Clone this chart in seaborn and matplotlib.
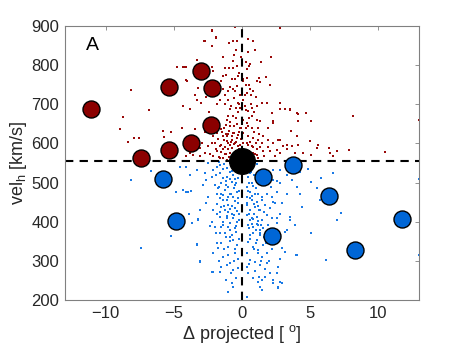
import matplotlib
matplotlib.use("Agg")
import matplotlib.pyplot as plt
import seaborn as sns

# small dots
red_dot_x = [-2.16, -0.52, 2.79, -2.72, -1.91, -2.23, -0.93, -0.69, -0.34, 0.46, 0.78, 0.95, 0.46, -0.44,
             -0.59, -1.37, -0.64, 0.29, 0.59, 1.37, 2.11, -3.33, -4.19, -4.07, -2.16, -2.11, -1.25, -0.93,
             -0.64, -0.39, 0.34, 0.54, -1.18, -1.37, -0.76, -0.52, -0.27, 0.05, 0.34, 1.22, 1.76, 1.08,
             -4.02, 2.06, -0.88, -0.64, -0.34, 0.29, 0.49, 0.59, 0.78, 1.32, -3.26, -3.46, -1.37, -1.01,
             -1.25, 0.34, 0.66, 0.22, -0.15,
             -3.33, -2.97, -3.82, -4.31, -1.62, -1.25, -0.88, -0.64, -0.27, 0.22, 0.46, 0.71, 1.08, 1.44,
             1.81, 2.18, 2.79, 3.53, 4.02, 4.14, 0.71, 1.08, 1.32, 0.34, 0.71, 1.20, 1.93, 2.30, -1.13,
             -0.88, -1.50, -1.86, -2.11, -1.37, -1.01, -0.64, -0.39, -1.13, -0.88, -0.52, -0.27, -1.62,
             -1.37, -1.86, -2.11, -2.35, -2.72, -3.09, -3.46, -3.33, 0.46, 0.83, 1.20, 1.57, 1.93, 2.30,
             2.67, 3.04, 3.28, 3.65, 3.90, 2.79, 2.43, 2.06, 1.57, 1.08, 0.71, 0.34, 0.59, 0.95, 1.20,
             -1.62, -1.25, -0.88, -0.64, -1.13, -0.15, 0.10, -1.99, -2.48, -3.09, -4.07, -3.82,
             -1.45, -1.2, -0.95, -0.75, -0.55, -0.3, -0.1, -1.3, -1.05, -0.8, -0.6, -0.4, -0.15, -1.5,
             -1.25, -1.0, -0.7, -0.45, -0.2, -1.55, -1.15, -0.95, -0.65, -0.35, -0.1, -1.7, -1.4, 0.1,
             -0.05, -0.35, -0.6, -0.9, -1.2, 0.15, 0.25, -0.8, -1.9, -2.2, -1.75, 0.05,
             0.45, 0.6, 0.8, 1.0, 0.55, 0.85, 1.1, 1.35, 0.4, 0.7, 1.5, 1.25, 0.9, 0.45,
             -0.4, -0.2, -0.6, 0.1, -0.3, -0.8, 0.3, -1.0, -0.5, 0.05, -0.25, -0.1, -1.5, -1.8, -2.4,
             -2.6, -1.6, 0.7, 1.0, 0.9,
             -0.5, -0.25, -1.1, 0.35, 0.6, 1.6, 1.9, -0.7, -0.2, 0.3, -1.3, -1.0, -0.4, 0.5, -2.7, -2.9,
             -3.6, -4.4, -0.15, 0.35,
             -8.11, -8.73, -8.92, -6.81, -8.36, -7.92, -7.55, -5.78, -5.71, -5.17, -4.36, -4.07, -4.73,
             -4.36, -3.33, -2.79, -2.16, -1.91,
             2.79, 2.11, 1.39, 1.76, 2.79, 3.16, 3.53, 4.15, 4.71, 5.05, 8.14, 12.99, 2.26, 3.58, 4.07,
             5.0, 5.6, 6.38, 6.96, 6.48, 6.67, 7.89, 10.51, 4.5, 5.1, 3.28, 2.79, 2.55, 4.15, 5.49]
red_dot_y = [888, 898, 895, 863, 869, 849, 857, 862, 862, 868, 861, 840, 835, 839,
             827, 822, 811, 808, 803, 808, 822, 813, 796, 796, 796, 784, 793, 793,
             793, 799, 791, 798, 776, 772, 764, 765, 772, 764, 768, 768, 770, 759,
             760, 750, 745, 740, 747, 750, 750, 738, 735, 757, 742, 724, 740, 733,
             725, 730, 724, 723, 725,
             712, 704, 687, 695, 712, 700, 687, 670, 704, 695, 683, 691, 695, 704,
             704, 678, 687, 687, 678, 657, 670, 661, 657, 653, 640, 640, 640, 653, 661,
             644, 636, 627, 619, 619, 623, 627, 614, 606, 597, 602, 593, 593,
             585, 580, 568, 572, 576, 568, 636, 610, 619, 614, 610, 619, 610, 602,
             610, 593, 585, 593, 576, 576, 568, 580, 580, 585, 593, 602, 568, 572, 563,
             563, 572, 576, 563, 619, 640, 627, 602, 593, 589, 568, 576,
             630, 625, 632, 618, 628, 622, 612, 608, 600, 605, 598, 604, 596, 596,
             590, 586, 588, 582, 586, 578, 574, 566, 572, 568, 575, 566, 562, 600,
             640, 650, 645, 655, 648, 580, 565, 562, 585, 600, 612, 660,
             595, 605, 590, 600, 580, 575, 570, 590, 570, 560, 600, 625, 630, 645,
             690, 700, 715, 710, 680, 695, 685, 710, 735, 760, 780, 820, 760, 700, 680,
             720, 735, 700, 720, 680,
             560, 558, 558, 558, 575, 568, 590, 610, 630, 640, 640, 670, 665, 665, 630, 600,
             570, 640, 690, 730,
             736, 667, 636, 685, 605, 614, 615, 633, 617, 630, 696, 762, 796,
             796, 813, 863, 890, 871,
             895, 822, 808, 769, 704, 689, 685, 676, 679, 657, 670, 660, 657, 632, 619,
             607, 597, 588, 582, 576, 567, 583, 579, 575, 570, 596, 608, 584, 597, 588]

blue_dot_x = [-4.07, -3.82, -4.31, -3.95, -3.33, -2.72, -2.60, -2.23, -2.11, -1.86, -1.62, -1.37, -1.13,
              -0.88, -0.64, -0.39, -1.99, -1.74, -1.50, -1.25, -1.01, -0.76, -0.52, -0.27, -1.86, -1.62,
              -1.37, -1.13, -0.88, -0.64, -0.39, -1.50, -1.25, -1.01, -0.76, -0.52, -0.27, -1.62, -1.37,
              -1.13, -0.88, -0.64, -0.39, -2.60, -2.84, -2.11, -2.23, -1.99, -1.50, -1.01, -0.52, -3.09,
              -3.21, -3.70, -2.48, -1.86,
              0.22, 0.46, 0.71, 0.34, 0.59, 0.95, 0.34, 0.71, 1.08, 1.44, 1.81, 2.18, 2.55, 0.34, 0.59,
              0.95, 1.32, 1.69, 2.06, 2.43, 2.79, 0.34, 0.71, 1.08, 1.44, 1.81, 2.18, 2.55, 0.46, 0.83,
              1.20, 1.57, 1.93, 2.30, 2.79, 3.28, 3.65, 4.02, 4.26, 2.79, 3.28, 2.92, 3.53, 3.90, 2.30,
              0.59,
              -3.33, -3.09, -2.11, -1.86, -1.74, -1.62, -1.37, -1.25, -1.01, -0.88, -0.64, -0.52, -0.39,
              -0.88, -1.13, -0.64, -0.27, -1.50, -2.11, -1.62, -0.76, -1.01, 0.34, 0.46, 0.59, 0.83, 1.08,
              1.32, 1.20, 1.57, 1.81, 1.44, 0.59, 0.95, 1.32, 1.81, 2.06, 1.69, 1.44, 1.20, 0.83, 0.46,
              0.34, 1.44, 1.32, 2.30, 2.67, 2.79, 2.55, 2.67, 2.79, 3.16, 2.92, 4.02, 3.16, 0.34,
              0.5, 0.8, 1.1, 0.3, -0.2, -0.5, -0.9, -1.3, -1.7, -2.5, 0.9, 1.3, 1.7, 1.0, 0.6, 1.2, 0.9,
              1.6, 1.1, 0.8, 1.6, 1.0, -0.3, -0.7, -1.0, -0.2, -0.5, -1.2, -0.8, -1.4, 2.0, 2.3, 0.6, 1.3,
              -0.4, -0.9, -1.3, -0.6, 1.8, 2.2,
              -1.6, -1.1, -0.7, -0.3, -1.9, -1.4, -0.9, -0.45, -1.7, -1.2, -0.6, -0.2, -1.5, -1.0, -0.5,
              -1.8, -1.3, -0.85, -0.35, -1.6, -1.1, -0.6, -0.25, -1.4, -0.9, -0.4, -1.9, -1.2, -0.7, -0.2,
              -1.55, -0.5, -1.0, -0.3, -1.7, -0.8, -0.4, -1.2,
              0.4, 0.7, 1.0, 0.5, 0.8, 1.2, 0.45, 0.75, 1.5, 0.4, 0.9, 1.25, 0.55, 0.85, 1.15, 1.4, 0.5,
              0.75, 1.05, 1.3, 0.6, 0.9, 1.15, 1.4, 0.55, 0.95, 1.7, 1.25, 2.0, 2.4, 2.6, 2.1, 1.7, 2.6,
              -8.16, -6.69, -4.85, -4.07, -3.75, -4.56, -3.21, -3.90, -5.22, -7.38, -3.33, -3.09, -2.35,
              -2.6, 4.88, 5.05, 5.78, 5.49, 5.74, 6.67, 7.25, 6.96, 4.39, 3.97, 5.07, 6.15, 12.97, 12.97,
              4.26, 3.53, 3.28, -1.05, 0.34, 1.45, 2.30, 2.92, 2.67, -0.64, -2.16]
blue_dot_y = [541, 519, 481, 477, 532, 524, 506, 515, 532, 541, 524, 536, 515,
              528, 519, 532, 494, 485, 498, 481, 489, 502, 494, 511, 472, 460,
              468, 455, 472, 464, 477, 438, 430, 443, 421, 434, 447, 413, 400,
              409, 396, 409, 400, 447, 494, 430, 400, 387, 387, 387, 383, 430,
              404, 396, 464, 421,
              532, 515, 498, 489, 477, 472, 464, 455, 451, 464, 472, 464, 477, 443, 430,
              438, 430, 443, 434, 447, 421, 417, 409, 413, 404, 417, 409, 396, 391, 387,
              391, 383, 391, 506, 498, 519, 506, 489, 528, 532, 472, 447, 413, 391, 532,
              524,
              340, 298, 319, 345, 332, 370, 311, 370, 336, 362, 353, 319, 340,
              294, 289, 277, 281, 285, 272, 272, 243, 221, 208, 349, 366, 336, 353,
              370, 328, 340, 319, 311, 302, 298, 289, 294, 268, 260, 251, 247, 255, 268,
              285, 225, 234, 243, 234, 247, 268, 285, 306, 323, 332, 315, 375, 319,
              545, 540, 548, 550, 548, 545, 550, 547, 552, 550, 520, 505, 495, 485, 460, 440, 420,
              425, 395, 370, 360, 345, 460, 440, 425, 420, 510, 505, 470, 455, 520, 450, 405, 380,
              375, 350, 330, 300, 345, 330,
              545, 538, 530, 525, 520, 512, 508, 500, 490, 495, 485, 478, 470, 462, 452,
              445, 440, 432, 428, 425, 415, 418, 405, 392, 380, 388, 372, 360, 365, 355,
              345, 330, 315, 305, 300, 270, 255, 250,
              538, 528, 510, 500, 492, 470, 478, 465, 455, 448, 445, 430, 420, 408, 402, 392, 385,
              395, 380, 365, 355, 330, 320, 300, 292, 275, 280, 260, 300, 360, 410, 490, 520, 505,
              506, 530, 477, 476, 478, 541, 407, 421, 364, 334, 342, 300, 389,
              447, 534, 502, 511, 485, 455, 524, 423, 405, 438, 315, 370, 302, 509, 316,
              472, 404, 379, 220, 208, 226, 251, 243, 230, 234, 272]

# large circles
red_big_x = [-11.05, -7.40, -5.34, -5.32, -3.77, -2.97, -2.18, -2.30]
red_big_y = [687, 564, 583, 744, 601, 785, 742, 648]
blue_big_x = [-5.81, -4.83, 1.54, 3.73, 2.18, 6.40, 8.31, 11.72]
blue_big_y = [508, 401, 515, 546, 363, 465, 327, 408]
center_x = [0.0]
center_y = [556]

sns.set_style("white")
plt.rcParams['font.family'] = ['Liberation Sans', 'DejaVu Sans']

fig = plt.figure(figsize=(4.63, 3.48), dpi=100)
ax = fig.add_axes([0.140, 0.138, 0.765, 0.787])

sns.scatterplot(x=red_dot_x, y=red_dot_y, color='#9a0a0a', s=3, marker='s', linewidth=0, ax=ax, zorder=1)
sns.scatterplot(x=blue_dot_x, y=blue_dot_y, color='#1a7ae6', s=3, marker='s', linewidth=0, ax=ax, zorder=1)

ax.axvline(0, color='black', linestyle=(0, (4, 3)), linewidth=1.5, zorder=2)
ax.axhline(556, color='black', linestyle=(0, (4, 3)), linewidth=1.5, zorder=2)

sns.scatterplot(x=red_big_x, y=red_big_y, color='#8b0000', s=150, edgecolor='black', linewidth=1, ax=ax, zorder=3)
sns.scatterplot(x=blue_big_x, y=blue_big_y, color='#0066d6', s=150, edgecolor='black', linewidth=1, ax=ax, zorder=3)
sns.scatterplot(x=center_x, y=center_y, color='black', s=340, edgecolor='black', linewidth=1, ax=ax, zorder=4)

ax.set_xlim(-13, 13)
ax.set_ylim(200, 900)
ax.set_xticks([-10, -5, 0, 5, 10])
ax.set_yticks([200, 300, 400, 500, 600, 700, 800, 900])
ax.tick_params(direction='in', length=3, width=0.6, color='#808080', labelcolor='#262626',
               labelsize=12, top=True, right=True, pad=4)
for sp in ax.spines.values():
    sp.set_color('#808080')
    sp.set_linewidth(0.8)

ax.text(-11.0, 851, 'A', fontsize=14, color='black', ha='center', va='center')
ax.set_xlabel('Δ projected [ $^{\\mathregular{o}}$]', fontsize=13, color='#262626', labelpad=2)
ax.set_ylabel('vel$_\\mathregular{h}$ [km/s]', fontsize=13, color='#262626', labelpad=2)

fig.savefig('out.png', dpi=100)
